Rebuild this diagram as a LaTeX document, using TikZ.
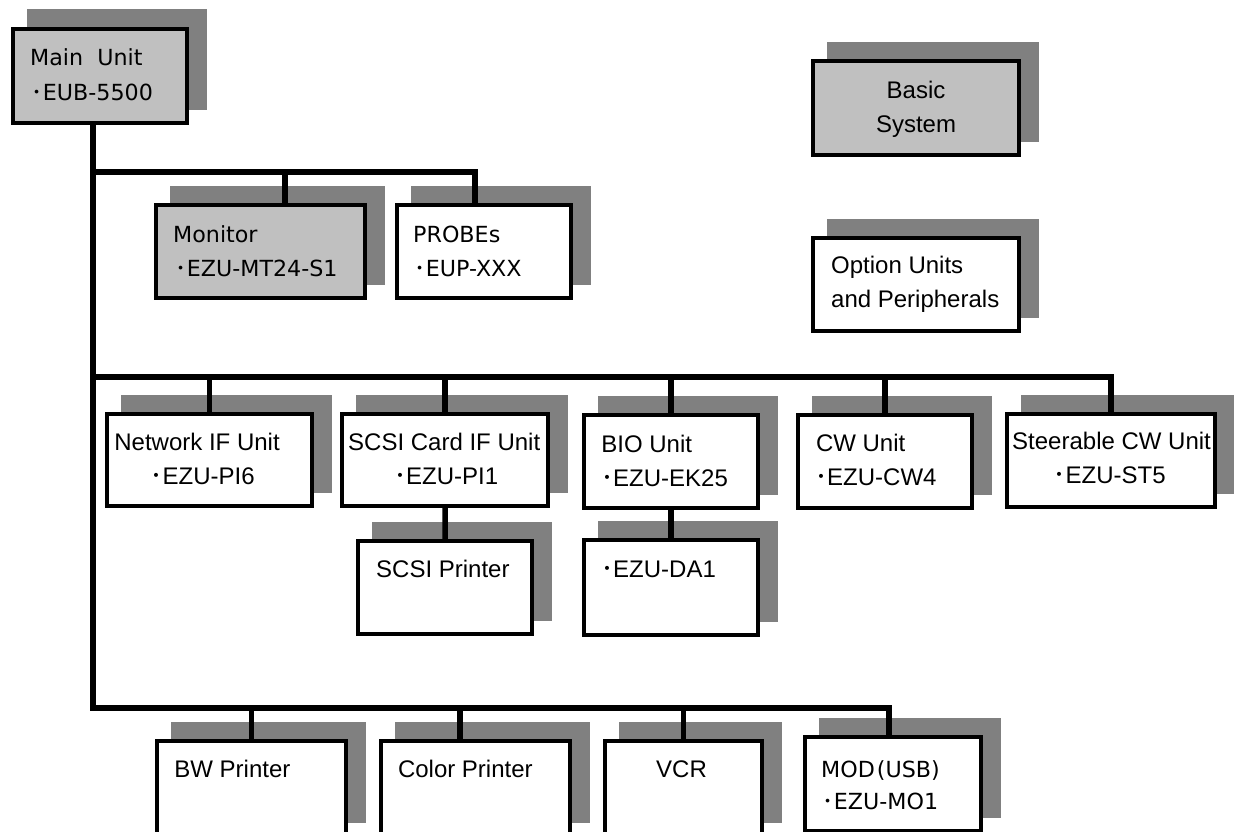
\documentclass[tikz,border=0pt]{standalone}
\usepackage{fontspec}
\setmainfont{Liberation Sans}
\newfontfamily\gothfont{DejaVu Sans}
\newfontfamily\cjkfont{Noto Sans CJK JP}
\usetikzlibrary{shadows}
\definecolor{boxgray}{HTML}{C0C0C0}
\definecolor{shadowgray}{HTML}{808080}
\newcommand\mdot{{\cjkfont ･}}
\tikzset{
  ubox/.style={rectangle, draw=black, line width=4bp, fill=white, anchor=north west,
    inner sep=0pt, outer sep=0pt,
    general shadow={fill=shadowgray, draw=shadowgray, line width=6bp,
      shadow xshift=16.5bp, shadow yshift=16.5bp}},
  graybox/.style={ubox, fill=boxgray},
  conn/.style={line width=5.5bp, line join=miter, draw=black},
  atxt/.style={inner sep=0pt, anchor=base west, font=\fontsize{24bp}{34bp}\selectfont},
  ctxt/.style={inner sep=0pt, anchor=base, font=\fontsize{24bp}{34bp}\selectfont},
  gtxt/.style={inner sep=0pt, anchor=base west, font=\fontsize{22.2bp}{34bp}\selectfont\gothfont},
}
\begin{document}
\begin{tikzpicture}[x=1bp, y=-1bp]
\useasboundingbox (0,0) rectangle (1234,832);
\fill[white] (0,0) rectangle (1234,832);
\clip (0,0) rectangle (1234,832);

% boxes
\node[graybox, minimum width=174bp, minimum height=94bp] (main) at (13,29) {};
\node[graybox, minimum width=209bp, minimum height=93bp] (monitor) at (156,205) {};
\node[ubox, minimum width=174bp, minimum height=93bp] (probes) at (397,205) {};
\node[graybox, minimum width=206bp, minimum height=94bp] (basic) at (813,61) {};
\node[ubox, minimum width=206bp, minimum height=93bp] (option) at (813,238) {};
\node[ubox, minimum width=205bp, minimum height=92bp] (network) at (107,414) {};
\node[ubox, minimum width=206bp, minimum height=92bp] (scsicard) at (342,414) {};
\node[ubox, minimum width=174bp, minimum height=93bp] (scsiprn) at (358,541) {};
\node[ubox, minimum width=174bp, minimum height=93bp] (bio) at (584,415) {};
\node[ubox, minimum width=174bp, minimum height=95bp] (da1) at (584,540) {};
\node[ubox, minimum width=174bp, minimum height=93bp] (cw) at (798,415) {};
\node[ubox, minimum width=208bp, minimum height=93bp] (steer) at (1007,414) {};
\node[ubox, minimum width=189bp, minimum height=95bp] (bw) at (157,741) {};
\node[ubox, minimum width=189bp, minimum height=95bp] (color) at (381,741) {};
\node[ubox, minimum width=157bp, minimum height=95bp] (vcr) at (605,741) {};
\node[ubox, minimum width=176bp, minimum height=94bp] (mod) at (805,737) {};

% texts
\node[gtxt] (main1) at (30,65) {Main\ \ Unit};
\node[gtxt] (main2) at (31.6,100) {\mdot EUB-5500};
\node[gtxt] (mon1) at (173,242) {Monitor};
\node[gtxt] (mon2) at (175.6,276) {\mdot EZU-MT24-S1};
\node[gtxt] (prb1) at (413,242) {PROBEs};
\node[gtxt] (prb2) at (414.6,276) {\mdot EUP-XXX};
\node[ctxt] (bas1) at (916,98) {Basic};
\node[ctxt] (bas2) at (916,132) {System};
\node[atxt] (opt1) at (831,273) {Option Units};
\node[atxt] (opt2) at (831,307) {and Peripherals};
\node[atxt] (net1) at (114.2,450) {Network IF Unit};
\node[atxt] (net2) at (150.5,484) {\mdot EZU-PI6};
\node[atxt] (scc1) at (348,450) {SCSI Card IF Unit};
\node[atxt] (scc2) at (394,484) {\mdot EZU-PI1};
\node[atxt] (scp1) at (376,577) {SCSI Printer};
\node[atxt] (bio1) at (601.2,452) {BIO Unit};
\node[atxt] (bio2) at (601,486) {\mdot EZU-EK25};
\node[atxt] (da11) at (601,577) {\mdot EZU-DA1};
\node[atxt] (cw1) at (815.8,451) {CW Unit};
\node[atxt] (cw2) at (815,485) {\mdot EZU-CW4};
\node[atxt] (st1) at (1012,449) {Steerable CW Unit};
\node[atxt] (st2) at (1053.5,483) {\mdot EZU-ST5};
\node[atxt] (bw1) at (174.2,777) {BW Printer};
\node[atxt] (col1) at (397.8,777) {Color Printer};
\node[atxt] (vcr1) at (656,777) {VCR};
\node[gtxt] (mod1) at (821,777) {MOD\hspace{2bp}(USB)};
\node[gtxt] (mod2) at (822.6,809) {\mdot EZU-MO1};

% junction coordinates
\coordinate (j1) at (93,172);
\coordinate (j2) at (93,377);
\coordinate (j3) at (93,708);
\coordinate (k1) at (285,172);
\coordinate (p1) at (475,172);
\coordinate (s2) at (1111,377);
\coordinate (m3) at (889,708);
\coordinate (c3) at (460,708);

% connectors
\draw[conn] (main.south -| j1) -- (j3) -- (m3) -- (m3 |- mod.north);
\draw[conn] (j1) -- (p1) -- (p1 |- probes.north);
\draw[conn] (k1) -- (k1 |- monitor.north);
\draw[conn] (j2) -- (s2) -- (s2 |- steer.north);
\draw[conn] (network.north |- j2) -- (network.north);
\draw[conn] (scsicard.north |- j2) -- (scsicard.north);
\draw[conn] (bio.north |- j2) -- (bio.north);
\draw[conn] (cw.north |- j2) -- (cw.north);
\draw[conn] (scsicard.south) -- (scsiprn.north);
\draw[conn] (bio.south) -- (da1.north);
\draw[conn] (bw.north |- j3) -- (bw.north);
\draw[conn] (c3) -- (c3 |- color.north);
\draw[conn] (vcr.north |- j3) -- (vcr.north);
\end{tikzpicture}
\end{document}
